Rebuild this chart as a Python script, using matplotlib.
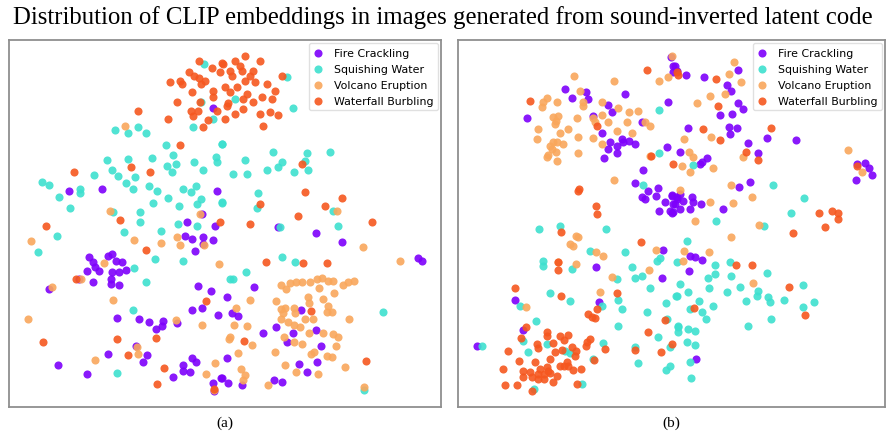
import matplotlib
matplotlib.use('Agg')
from matplotlib import pyplot as plt

# 2-D embedding coordinates (arbitrary t-SNE units, y grows downward)
labels = ['Fire Crackling', 'Squishing Water', 'Volcano Eruption', 'Waterfall Burbling']
colors = ['#7d00fb', '#3ee0cf', '#f9a75c', '#f5571f']

# ---------- panel (a) ----------
a_fire_x = [213, 69, 102, 217, 187, 202, 185, 192, 203, 213, 203, 195, 215,
            89, 93, 87, 95, 99, 93, 108, 112, 116, 122, 112, 126, 119, 111, 111, 119, 79, 49,
            198, 211, 227, 192, 202, 218, 117, 139, 149, 163, 156, 162, 177,
            108, 136, 147, 143, 58, 87, 173, 183, 192, 196, 183, 190, 227, 213, 221, 228, 214,
            316, 342, 418, 422, 254, 232, 238, 301, 276, 263, 316, 293, 287, 321,
            299, 317, 307, 222, 242, 274, 282, 278]
a_fire_y = [109, 192, 190, 192, 223, 215, 237, 240, 238, 241, 245, 252, 227,
            258, 263, 272, 268, 272, 283, 257, 255, 262, 263, 273, 271, 273, 280, 285, 286, 280, 290,
            287, 292, 298, 311, 309, 316, 319, 320, 323, 322, 330, 327, 324,
            355, 347, 356, 363, 366, 375, 378, 366, 359, 363, 372, 373, 359, 384, 379, 384, 392,
            234, 243, 259, 262, 288, 314, 317, 311, 328, 334, 331, 334, 343, 347,
            365, 363, 373, 379, 386, 381, 383, 228]

a_water_x = [204, 201, 193, 213, 222, 115, 128, 138, 146, 166, 173, 152, 107, 128,
             112, 118, 135, 126, 133, 94, 167, 176, 172, 194, 203, 216, 217, 42, 49,
             80, 80, 59, 70, 149, 157, 183, 191, 196, 168, 153, 179, 197, 201, 222,
             113, 140, 140, 287, 235, 293, 222, 273, 307, 330, 245, 282, 278, 233, 247,
             267, 294, 308, 305, 258, 222, 257, 333, 338, 280,
             57, 38, 124, 161, 178, 197, 155, 183, 134, 146, 133, 117, 230,
             282, 295, 246, 233, 383, 364]
a_water_y = [65, 103, 128, 120, 145, 131, 134, 128, 134, 146, 156, 159, 161, 160,
             171, 177, 178, 184, 190, 176, 167, 165, 173, 163, 171, 158, 163, 183, 186,
             190, 194, 198, 209, 187, 192, 190, 193, 187, 199, 204, 207, 205, 200, 204,
             213, 213, 223, 78, 100, 109, 145, 153, 154, 153, 161, 163, 168, 175, 175,
             171, 173, 171, 162, 194, 203, 209, 212, 227, 228,
             237, 253, 233, 232, 225, 227, 260, 262, 269, 283, 311, 374, 280,
             258, 263, 273, 280, 313, 391]

a_volcano_x = [125, 110, 200, 337, 31, 134, 161, 177, 180, 104, 81, 52, 113, 28, 176,
               202, 219, 95, 137, 138, 215, 206, 214, 230, 204,
               363, 400, 281, 290, 296, 302, 310, 317, 322, 328, 333, 343, 348, 354,
               286, 319, 334, 308, 309, 323, 250, 276, 281, 285, 294, 283, 295, 328, 327, 332,
               236, 281, 288, 294, 300, 305, 313, 349, 234, 247, 309, 323, 333, 338,
               229, 252, 284, 294, 302, 336, 238, 275, 311, 314, 327, 332, 285, 296, 318,
               345, 241, 245, 243, 268, 364]
a_volcano_y = [127, 212, 215, 212, 242, 241, 244, 238, 246, 264, 280, 288, 301, 320, 321,
               326, 265, 361, 348, 355, 364, 375, 391, 338, 246,
               248, 262, 286, 284, 283, 283, 283, 280, 279, 282, 282, 286, 283, 282,
               290, 289, 294, 298, 304, 300, 301, 302, 310, 309, 309, 314, 314, 307, 313, 313,
               309, 320, 323, 326, 328, 320, 320, 320, 326, 327, 334, 334, 335, 338,
               340, 346, 338, 343, 345, 347, 354, 353, 355, 353, 357, 358, 366, 373, 375,
               368, 370, 376, 381, 386, 388]

a_fall_x = [199, 212, 222, 189, 194, 199, 205, 180, 170, 182, 201, 220, 192, 213, 213,
            177, 200, 191, 193, 198, 208, 217, 225, 203, 228,
            245, 235, 223, 260, 240, 230, 242, 253, 232, 250, 245, 255, 267, 225, 237,
            230, 247, 275, 272, 262, 243, 253, 227, 243, 235, 260, 270, 278, 263, 282,
            138, 168, 180, 74, 131, 150, 120, 46,
            302, 305, 260, 325, 342, 372, 298, 250, 220,
            146, 76, 43, 117, 128, 156, 164, 157, 206, 214,
            266, 303, 327, 311, 244, 366]
a_fall_y = [62, 69, 64, 73, 77, 79, 82, 82, 83, 85, 85, 73, 93, 92, 98,
            103, 103, 112, 117, 112, 121, 112, 120, 128, 104,
            57, 62, 65, 62, 67, 72, 72, 72, 77, 77, 82, 83, 85, 88, 88,
            93, 95, 92, 100, 98, 100, 103, 107, 110, 115, 115, 113, 116, 127, 77,
            112, 120, 146, 173, 168, 173, 221, 227,
            165, 193, 205, 207, 199, 223, 217, 225, 223,
            251, 280, 343, 340, 356, 339, 369, 385, 302, 390,
            263, 264, 264, 312, 342, 362]

# ---------- panel (b) ----------
b_fire_x = [565, 572, 586, 588, 625, 527, 608, 612, 593, 602, 642, 610, 617, 622, 629,
            635, 608, 617, 623, 604, 643, 635, 648, 658, 656, 642, 645, 665, 673, 672,
            680, 677, 659, 670, 672, 668, 667, 671, 673, 673,
            675, 677, 686, 704, 738, 727, 731, 738, 743, 720, 732, 729, 737, 730, 688,
            767, 796, 748, 758, 680, 702, 707, 700, 857, 865, 869, 872, 856, 750, 739,
            672, 677, 683, 675, 692, 693, 701, 690, 673, 680, 723,
            663, 596, 662, 515, 599, 523, 477, 690, 695, 702, 689, 696]
b_fire_y = [90, 99, 93, 100, 95, 119, 106, 113, 117, 134, 123, 143, 147, 140, 142,
            145, 150, 154, 143, 159, 171, 184, 192, 189, 197, 198, 200, 203, 205, 196,
            195, 200, 212, 212, 214, 103, 148, 58, 67, 73,
            67, 72, 76, 78, 71, 86, 92, 104, 110, 116, 115, 128, 129, 135, 129,
            139, 141, 144, 154, 153, 163, 159, 165, 165, 164, 169, 176, 181, 183, 188,
            197, 198, 202, 205, 198, 203, 205, 210, 213, 210, 210,
            251, 268, 279, 301, 303, 331, 347, 257, 258, 261, 272, 360]

b_water_x = [659, 659, 643, 560, 539, 606, 693, 773, 804, 791, 716, 764,
             543, 543, 590, 625, 657, 660, 632, 572, 635, 642, 617, 650, 550, 570,
             618, 622, 666, 676, 647, 536, 618, 667, 658, 678, 528, 547, 603, 635, 670,
             638, 666, 670, 520, 523, 570, 593, 534, 582, 482, 677, 565, 602,
             687, 715, 715, 730, 731, 767, 708, 709, 680, 677, 688, 740, 727, 758, 757,
             746, 768, 770, 784, 803, 814, 803, 699, 713, 702, 690, 706, 771, 748,
             678, 678, 688, 695, 687, 695, 690, 691]
b_water_y = [111, 154, 186, 227, 230, 230, 166, 186, 199, 214, 222, 227,
             262, 267, 252, 253, 262, 259, 268, 270, 279, 277, 280, 289, 294, 302,
             301, 310, 304, 297, 313, 322, 327, 320, 338, 328, 353, 345, 344, 348, 348,
             364, 371, 367, 307, 342, 354, 360, 390, 385, 347, 263, 352, 307,
             242, 266, 275, 263, 277, 274, 279, 289, 285, 297, 293, 288, 293, 292, 297,
             302, 298, 303, 301, 286, 303, 308, 302, 307, 313, 310, 320, 320, 327,
             327, 333, 330, 332, 343, 346, 363, 379]

b_volcano_x = [574, 614, 580, 547, 543, 542, 557, 583, 583, 602, 618, 629, 638,
               553, 556, 558, 555, 577, 593, 595, 608, 627, 645, 650, 538, 537, 568,
               560, 578, 593, 617, 632, 553, 550, 557, 563, 552, 548, 547, 557, 556,
               578, 602, 650, 614, 659, 668, 672, 602,
               734, 729, 741, 710, 725, 697, 684, 711, 689, 693, 682, 690, 713, 743,
               848, 862, 731, 710, 733, 752, 680, 695,
               576, 578, 570, 573, 596, 603, 576, 656, 649, 612, 600, 526, 558,
               731, 759, 709, 684, 683, 753]
b_volcano_y = [77, 82, 92, 99, 103, 108, 103, 103, 107, 103, 109, 113, 112,
               118, 122, 117, 125, 119, 119, 123, 123, 123, 123, 127, 130, 140, 130,
               134, 138, 139, 132, 134, 143, 147, 143, 145, 150, 156, 158, 162, 153,
               154, 145, 157, 181, 82, 78, 57, 116,
               63, 75, 83, 97, 95, 104, 140, 138, 153, 158, 167, 173, 169, 158,
               151, 173, 186, 203, 204, 198, 191, 222,
               237, 238, 245, 247, 253, 257, 265, 251, 271, 278, 293, 308, 263,
               238, 226, 253, 252, 262, 284]

b_fall_x = [530, 647, 597, 651, 673, 579, 578, 596, 597, 677,
            678, 716, 718, 703, 720, 771, 746, 758, 857, 819, 832, 838, 838, 825,
            561, 641, 558, 558, 515, 617, 561, 597, 588, 592, 595, 526, 665, 648,
            521, 672, 661, 635, 605, 587, 590, 586, 594,
            547, 547, 560, 568, 564, 553, 555, 562, 572, 576, 575, 567, 560, 568,
            550, 547, 535, 523, 530, 538, 544, 550, 557, 564, 573, 581, 553, 544,
            538, 532, 523, 540, 548, 508, 519, 503, 505, 517, 532, 577, 537, 538,
            793, 736, 752, 789, 694, 805]
b_fall_y = [102, 71, 127, 157, 165, 190, 192, 207, 215, 73,
            76, 80, 107, 130, 141, 129, 153, 161, 167, 214, 212, 214, 220, 228,
            233, 243, 263, 271, 289, 294, 297, 310, 315, 318, 319, 328, 321, 333,
            339, 345, 353, 351, 350, 343, 340, 347, 361,
            333, 337, 337, 336, 341, 344, 353, 351, 348, 352, 357, 363, 367, 367,
            360, 368, 363, 372, 373, 375, 375, 374, 377, 367, 371, 370, 383, 380,
            380, 378, 378, 370, 372, 352, 362, 370, 386, 386, 392, 385, 345, 349,
            234, 266, 266, 288, 309, 316]

panels = [
    ('(a)', [(a_fire_x, a_fire_y), (a_water_x, a_water_y),
             (a_volcano_x, a_volcano_y), (a_fall_x, a_fall_y)], (9, 441)),
    ('(b)', [(b_fire_x, b_fire_y), (b_water_x, b_water_y),
             (b_volcano_x, b_volcano_y), (b_fall_x, b_fall_y)], (458, 885)),
]

W, H = 886, 435
fig = plt.figure(figsize=(W / 100, H / 100), dpi=100)

for caption, series, (x0, x1) in panels:
    ax = fig.add_axes([x0 / W, (H - 408) / H, (x1 - x0) / W, (408 - 41) / H])
    for (xs, ys), lab, col in zip(series, labels, colors):
        ax.scatter(xs, ys, s=34, c=col, alpha=0.9, linewidths=0, label=lab)
    ax.set_xlim(x0, x1)
    ax.set_ylim(408, 41)
    ax.set_xticks([])
    ax.set_yticks([])
    for sp in ax.spines.values():
        sp.set_color('#8f8f8f')
        sp.set_linewidth(1.3)
    ax.legend(loc='upper right', fontsize=7.9, handletextpad=0.9, labelspacing=0.55,
              borderaxespad=0.3, handlelength=1.0, markerscale=1.0,
              framealpha=0.9, edgecolor='#dddddd')
    fig.text((x0 + x1) / 2 / W, 1 - 423 / H, caption, ha='center', va='center',
             family='Liberation Serif', fontsize=11)

fig.text(0.5, 1 - 18 / H,
         'Distribution of CLIP embeddings in images generated from sound-inverted latent code',
         ha='center', va='center', family='Liberation Serif', fontsize=17.8)

plt.savefig('out.png', dpi=100)
